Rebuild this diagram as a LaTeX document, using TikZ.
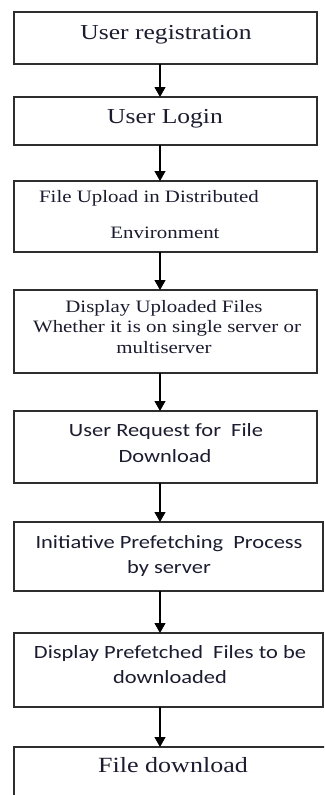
\documentclass[tikz,border=0pt]{standalone}
\usepackage{fontspec}
\usetikzlibrary{arrows.meta}
\newfontfamily\serifx[FakeStretch=1.2]{Liberation Serif}
\newfontfamily\sansx[FakeStretch=1.2]{Carlito}
\definecolor{boxgray}{HTML}{2E2E2E}
\definecolor{txt}{HTML}{1C1C30}
\begin{document}
\begin{tikzpicture}[x=1pt,y=-1pt,
  box/.style={draw=boxgray,line width=1.4pt,anchor=north west,inner sep=0pt,outer sep=0pt},
  lbl/.style={anchor=base,inner sep=0pt,text=txt},
  serbig/.style={lbl,font=\serifx\fontsize{21.3}{24}\selectfont},
  sermid/.style={lbl,font=\serifx\fontsize{17.4}{20}\selectfont},
  sanst/.style={lbl,font=\sansx\fontsize{18.7}{22}\selectfont},
  arr/.style={-{Triangle[width=11pt,length=10pt]},line width=1.1pt,black}
]
\useasboundingbox (0,0) rectangle (324,795);
\fill[white] (0,0) rectangle (324,795);
\clip (0,0) rectangle (324,795);
\coordinate (ax) at (160,0);

% boxes
\node[box,minimum width=303pt,minimum height=52pt] (b1) at (14,12) {};
\node[box,minimum width=303pt,minimum height=48pt] (b2) at (14,97) {};
\node[box,minimum width=303pt,minimum height=71pt] (b3) at (14,181) {};
\node[box,minimum width=303pt,minimum height=83pt] (b4) at (14,290) {};
\node[box,minimum width=303pt,minimum height=72pt] (b5) at (14,411) {};
\node[box,minimum width=309pt,minimum height=69pt] (b6) at (14,522) {};
\node[box,minimum width=309pt,minimum height=74pt] (b7) at (14,633) {};
\node[box,minimum width=330pt,minimum height=80pt] (b8) at (14,747) {};

% texts
\node[serbig] (t1) at (166,39) {User registration};
\node[serbig] (t2) at (165,123) {User Login};
\node[sermid] (t3a) at (149,202) {File Upload in Distributed};
\node[sermid] (t3b) at (165,238) {Environment};
\node[sermid] (t4a) at (164,312) {Display Uploaded Files};
\node[sermid] (t4b) at (167,332) {Whether it is on single server or};
\node[sermid] (t4c) at (164,353) {multiserver};
\node[sanst] (t5a) at (166,436) {User Request for~~File};
\node[sanst] (t5b) at (165,462) {Download};
\node[sanst] (t6a) at (169,548) {Initiative Prefetching~~Process};
\node[sanst] (t6b) at (169,573) {by server};
\node[sanst] (t7a) at (170,658) {Display Prefetched~~Files to be};
\node[sanst] (t7b) at (170,683) {downloaded};
\node[lbl,font=\serifx\fontsize{21.7}{24}\selectfont] (t8) at (173,772) {File download};

% arrows
\draw[arr] (b1.south -| ax) -- (b2.north -| ax);
\draw[arr] (b2.south -| ax) -- (b3.north -| ax);
\draw[arr] (b3.south -| ax) -- (b4.north -| ax);
\draw[arr] (b4.south -| ax) -- (b5.north -| ax);
\draw[arr] (b5.south -| ax) -- (b6.north -| ax);
\draw[arr] (b6.south -| ax) -- (b7.north -| ax);
\draw[arr] (b7.south -| ax) -- (b8.north -| ax);
\end{tikzpicture}
\end{document}
